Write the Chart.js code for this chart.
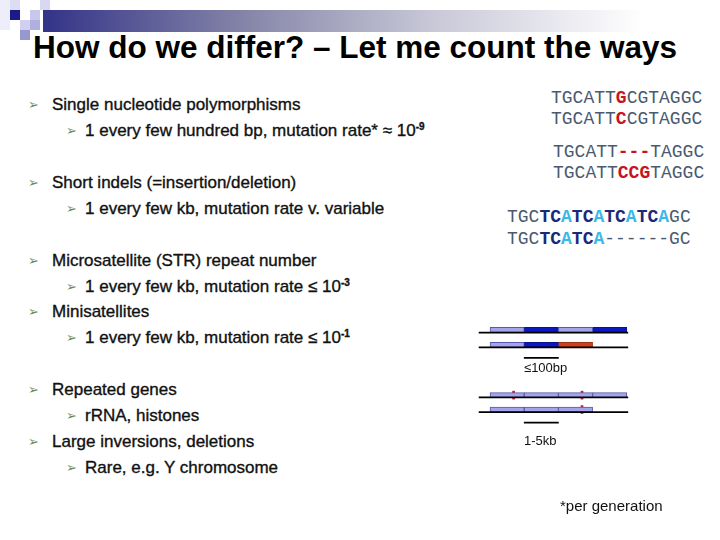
<!DOCTYPE html>
<html><head><meta charset="utf-8">
<script src="https://cdn.jsdelivr.net/npm/chart.js@4.4.1/dist/chart.umd.min.js"></script>
<style>
html,body{margin:0;padding:0;width:720px;height:540px;background:#fff;overflow:hidden;font-family:"Liberation Sans",Arial,sans-serif;}
.a{position:absolute;white-space:nowrap;line-height:1;}
.t{font-size:17px;color:#111;transform:translateY(-50%);-webkit-text-stroke:0.35px #111;}
.b{font-size:13px;color:#6a8a5a;transform:translateY(-50%);}
.s{font-family:"Liberation Mono","Courier New",monospace;font-size:18px;color:#4a5a70;transform:translateY(-50%);}
.r{color:#c8141e;font-weight:bold;}
.n{color:#1a2a7a;font-weight:bold;}
.c{color:#3cb8e8;font-weight:bold;}
sup{font-size:10px;vertical-align:6px;font-weight:bold;}
.sq{position:absolute;width:10px;height:10px;}
</style></head><body>
<div class="sq" style="left:0;top:0;width:10px;height:30px;background:#eeeefa"></div>
<div class="sq" style="left:10px;top:0;background:#dcdcf2"></div>
<div class="sq" style="left:10px;top:10px;background:#1a1a88"></div>
<div class="sq" style="left:20px;top:20px;background:#d0d0ee"></div>
<div class="sq" style="left:30px;top:10px;background:#c8c8ec"></div>
<div class="sq" style="left:30px;top:20px;background:#b0b0e0"></div>
<div class="sq" style="left:40px;top:0;background:#d8d8f0"></div>
<div class="sq" style="left:20px;top:30px;background:#9898d0"></div>
<div class="a" style="left:43px;top:10px;width:600px;height:22px;background:linear-gradient(to right,#333388,#8888aa 35%,#c8c8d8 65%,#ffffff)"></div>
<div class="a" style="left:33px;top:32px;font-size:31.5px;font-weight:bold;color:#000">How do we differ? – Let me count the ways</div>

<div class="a b" style="left:28px;top:104px">➢</div><div class="a t" style="left:52px;top:104px">Single nucleotide polymorphisms</div>
<div class="a b" style="left:66px;top:130px">➢</div><div class="a t" style="left:85px;top:130px">1 every few hundred bp, mutation rate* ≈ 10<sup>-9</sup></div>
<div class="a b" style="left:28px;top:182px">➢</div><div class="a t" style="left:52px;top:182px">Short indels (=insertion/deletion)</div>
<div class="a b" style="left:66px;top:208px">➢</div><div class="a t" style="left:85px;top:208px">1 every few kb, mutation rate v. variable</div>
<div class="a b" style="left:28px;top:260px">➢</div><div class="a t" style="left:52px;top:260px">Microsatellite (STR) repeat number</div>
<div class="a b" style="left:66px;top:286px">➢</div><div class="a t" style="left:85px;top:286px">1 every few kb, mutation rate ≤ 10<sup>-3</sup></div>
<div class="a b" style="left:28px;top:311px">➢</div><div class="a t" style="left:52px;top:311px">Minisatellites</div>
<div class="a b" style="left:66px;top:337px">➢</div><div class="a t" style="left:85px;top:337px">1 every few kb, mutation rate ≤ 10<sup>-1</sup></div>
<div class="a b" style="left:28px;top:389px">➢</div><div class="a t" style="left:52px;top:389px">Repeated genes</div>
<div class="a b" style="left:66px;top:415px">➢</div><div class="a t" style="left:85px;top:415px">rRNA, histones</div>
<div class="a b" style="left:28px;top:441px">➢</div><div class="a t" style="left:52px;top:441px">Large inversions, deletions</div>
<div class="a b" style="left:66px;top:467px">➢</div><div class="a t" style="left:85px;top:467px">Rare, e.g. Y chromosome</div>

<div class="a s" style="left:551px;top:98px">TGCATT<span class="r">G</span>CGTAGGC</div>
<div class="a s" style="left:551px;top:119px">TGCATT<span class="r">C</span>CGTAGGC</div>
<div class="a s" style="left:553px;top:152px">TGCATT<span class="r">---</span>TAGGC</div>
<div class="a s" style="left:553px;top:173px">TGCATT<span class="r">CCG</span>TAGGC</div>
<div class="a s" style="left:507px;top:217px">TGC<span class="n">TC</span><span class="c">A</span><span class="n">TC</span><span class="c">A</span><span class="n">TC</span><span class="c">A</span><span class="n">TC</span><span class="c">A</span>GC</div>
<div class="a s" style="left:507px;top:239px">TGC<span class="n">TC</span><span class="c">A</span><span class="n">TC</span><span class="c">A</span>------GC</div>

<div class="a" style="left:470px;top:300px;width:180px;height:150px"><canvas id="c" width="180" height="150"></canvas></div>
<div class="a" style="left:524px;top:361px;font-size:13px;color:#111">≤100bp</div>
<div class="a" style="left:524px;top:434px;font-size:13px;color:#111">1-5kb</div>
<div class="a" style="left:560px;top:498px;font-size:15px;color:#111">*per generation</div>
<script>
// [start, end, row] in segment units; row = vertical offset in diagram
const lightSegments = [[0,1,23.5],[2,3,23.5],[0,1,40.5],[0,1,98],[1,2,98],[2,3,98],[3,4,98],[0,1,114.5],[1,2,114.5],[2,3,114.5]];
const darkSegments = [[1,2,23.5],[3,4,23.5],[1,2,40.5]];
const redSegments = [[2,3,40.5]];
const mutationMarks = [[0.66,0.72,98],[2.66,2.72,98],[2.66,2.72,114.5]];
const baselines = [[-0.32,4.03,26.5],[-0.32,4.03,43.5],[-0.32,4.03,100.5],[-0.32,4.03,117.5]];
const scaleBars = [[1,2,55.5],[1,2,129.5]];
const toPts = a => a.map(([s,e,r]) => ({x:[s,e], y:r}));
new Chart(document.getElementById('c'), {
  type:'bar',
  data:{datasets:[
    {data:toPts(baselines),backgroundColor:'#000',barThickness:1,borderWidth:0},
    {data:toPts(scaleBars),backgroundColor:'#000',barThickness:1,borderWidth:0},
    {data:toPts(lightSegments),backgroundColor:'#a4a4ec',borderColor:'#5858b0',borderWidth:1,borderSkipped:false,barThickness:5},
    {data:toPts(darkSegments),backgroundColor:'#0c18c4',borderColor:'#0a1090',borderWidth:1,borderSkipped:false,barThickness:5},
    {data:toPts(redSegments),backgroundColor:'#d0401c',borderColor:'#a03010',borderWidth:1,borderSkipped:false,barThickness:5},
    {data:toPts(mutationMarks),backgroundColor:'#d0202c',barThickness:8,borderWidth:0}
  ]},
  options:{indexAxis:'y',responsive:false,animation:false,
    layout:{padding:0},
    datasets:{bar:{grouped:false}},
    plugins:{legend:{display:false},tooltip:{enabled:false}},
    scales:{
      x:{type:'linear',min:-0.585,max:4.678,display:false},
      y:{type:'linear',min:0,max:150,reverse:true,display:false}
    }}
});
</script>
</body></html>
